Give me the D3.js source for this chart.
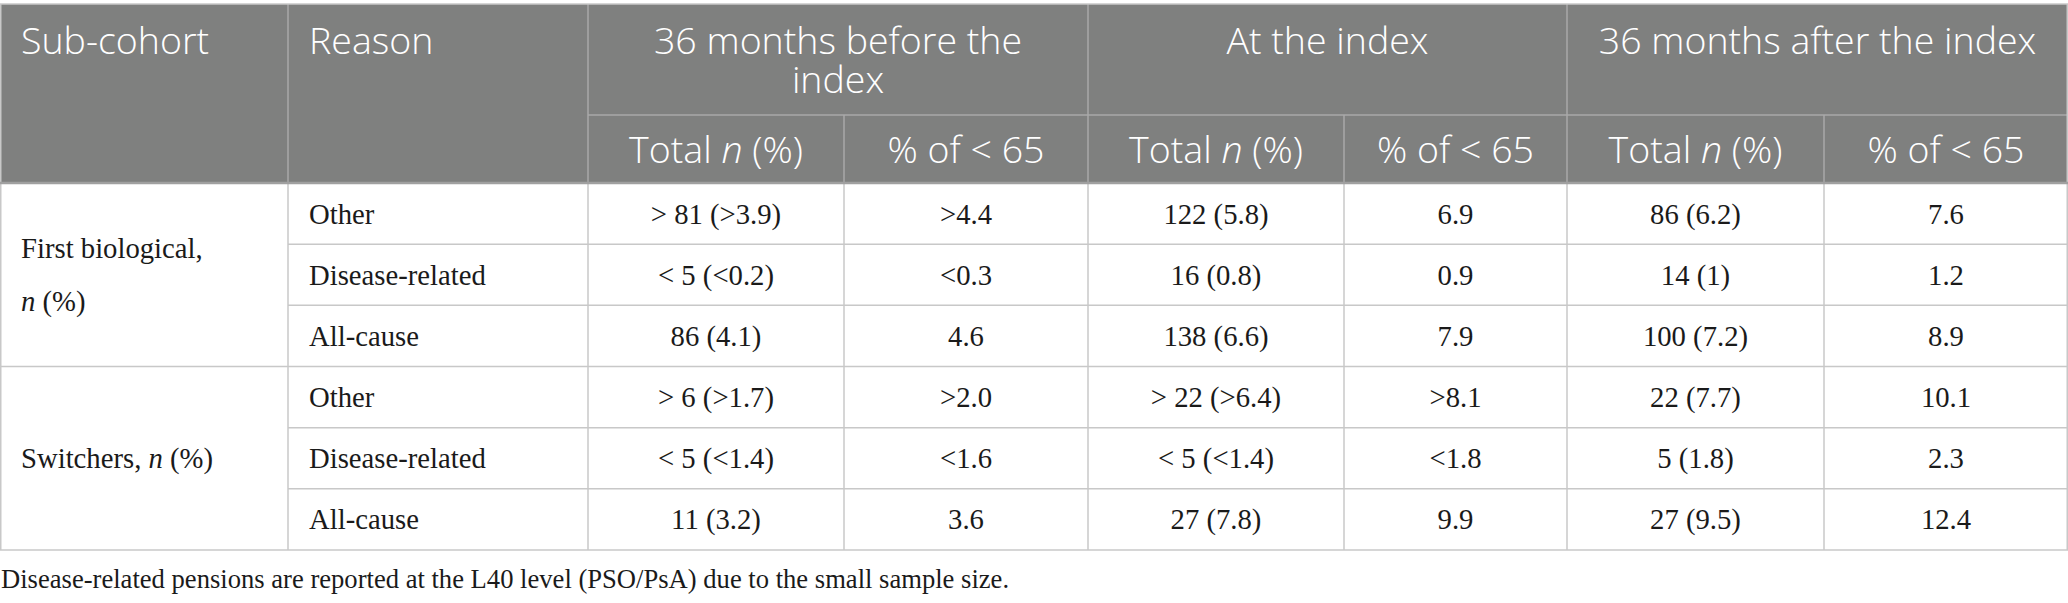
<!DOCTYPE html>
<html>
<head>
<meta charset="utf-8">
<script src="https://cdn.jsdelivr.net/npm/d3@7"></script>
<style>
  body { margin: 0; background: #fff; }
  svg { display: block; }
</style>
</head>
<body>
<svg id="table_display" width="2068" height="603"></svg>
<script>
// header labels
var periods = [
  ['36 months before the', 'index'],
  ['At the index'],
  ['36 months after the index']
]
var subHeaders = ['Total |n| (%)', '% of < 65']

// row labels
var cohorts = [['First biological,', '|n| (%)'], ['Switchers, |n| (%)']]
var reasons = ['Other', 'Disease-related', 'All-cause']

// values per row: before total, before %, index total, index %, after total, after %
var firstBiological = [
  ['> 81 (>3.9)', '>4.4', '122 (5.8)', '6.9', '86 (6.2)', '7.6'],
  ['< 5 (<0.2)', '<0.3', '16 (0.8)', '0.9', '14 (1)', '1.2'],
  ['86 (4.1)', '4.6', '138 (6.6)', '7.9', '100 (7.2)', '8.9']
]
var switchers = [
  ['> 6 (>1.7)', '>2.0', '> 22 (>6.4)', '>8.1', '22 (7.7)', '10.1'],
  ['< 5 (<1.4)', '<1.6', '< 5 (<1.4)', '<1.8', '5 (1.8)', '2.3'],
  ['11 (3.2)', '3.6', '27 (7.8)', '9.9', '27 (9.5)', '12.4']
]
var footnote = 'Disease-related pensions are reported at the L40 level (PSO/PsA) due to the small sample size.'

var svg = d3.select('#table_display')
var W = 2068

var colEdges = [0, 288, 588, 844, 1088, 1344, 1567, 1824, W]
var headTop = 4, headMid = 115, headBottom = 183, tableBottom = 550

var headFont = '"Open Sans", "Noto Sans", sans-serif'
var bodyFont = '"Liberation Serif", "DejaVu Serif", serif'
var lineColor = '#c8c8c8'

var rows = []
firstBiological.forEach(function (v, i) { rows.push({ g: 0, reason: reasons[i], values: v }) })
switchers.forEach(function (v, i) { rows.push({ g: 1, reason: reasons[i], values: v }) })

var y = d3.scaleBand()
  .domain(d3.range(rows.length))
  .range([headBottom, tableBottom])

var colMid = function (c) { return (colEdges[c] + colEdges[c + 1]) / 2 }

// write "a |n| b" with the pipe-marked part in italics
function richText (sel, str) {
  str.split('|').forEach(function (part, i) {
    sel.append('tspan')
      .style('font-style', i % 2 ? 'italic' : 'normal')
      .text(part)
  })
}

// header background
svg.append('rect')
  .attr('x', 0).attr('y', headTop)
  .attr('width', W).attr('height', headBottom - headTop)
  .style('fill', '#7f807f')

var head = svg.append('g')
  .style('font-family', headFont)
  .style('font-size', '37.5px')
  .style('font-weight', 300)
  .style('fill', '#fff')

head.append('text').attr('x', 21).attr('y', 54).text('Sub-cohort')
head.append('text').attr('x', colEdges[1] + 21).attr('y', 54).text('Reason')

periods.forEach(function (lines, p) {
  var cx = (colEdges[2 + p * 2] + colEdges[4 + p * 2]) / 2
  var t = head.append('text').attr('text-anchor', 'middle')
  lines.forEach(function (l, i) {
    t.append('tspan').attr('x', cx).attr('y', 54 + i * 39).text(l)
  })

  subHeaders.forEach(function (s, k) {
    var c = 2 + p * 2 + k
    head.append('text')
      .attr('x', colMid(c)).attr('y', 163)
      .attr('text-anchor', 'middle')
      .call(richText, s)
  })
})

// header grid
var hgrid = svg.append('g').style('stroke', '#a9a9a9').style('stroke-width', 1.5)
hgrid.append('line').attr('x1', colEdges[2]).attr('x2', W).attr('y1', headMid).attr('y2', headMid)
;[1, 2, 4, 6].forEach(function (c) {
  hgrid.append('line').attr('x1', colEdges[c]).attr('x2', colEdges[c]).attr('y1', headTop).attr('y2', headBottom)
})
;[3, 5, 7].forEach(function (c) {
  hgrid.append('line').attr('x1', colEdges[c]).attr('x2', colEdges[c]).attr('y1', headMid).attr('y2', headBottom)
})

// body grid
var grid = svg.append('g').style('stroke', lineColor).style('stroke-width', 1.5)
rows.forEach(function (r, i) {
  if (i === 0) return
  grid.append('line')
    .attr('x1', i === 3 ? 0 : colEdges[1]).attr('x2', W)
    .attr('y1', y(i)).attr('y2', y(i))
})
colEdges.slice(1, -1).forEach(function (x) {
  grid.append('line').attr('x1', x).attr('x2', x).attr('y1', headBottom).attr('y2', tableBottom)
})
grid.append('line').attr('x1', 0).attr('x2', W).attr('y1', tableBottom).attr('y2', tableBottom)
grid.append('line').attr('x1', 0.75).attr('x2', 0.75).attr('y1', headTop).attr('y2', tableBottom)
grid.append('line').attr('x1', W - 0.75).attr('x2', W - 0.75).attr('y1', headTop).attr('y2', tableBottom)
grid.append('line').attr('x1', 0).attr('x2', W).attr('y1', headTop).attr('y2', headTop)
svg.append('line')
  .attr('x1', 0).attr('x2', W).attr('y1', headBottom).attr('y2', headBottom)
  .style('stroke', '#a0a0a0').style('stroke-width', 2.5)

// body text
var body = svg.append('g')
  .style('font-family', bodyFont)
  .style('font-size', '28.7px')
  .style('fill', '#1a1a1a')

cohorts.forEach(function (lines, g) {
  var top = y(g * 3), bottom = y(g * 3 + 2) + y.bandwidth()
  var mid = (top + bottom) / 2
  var gap = 53
  var t = body.append('text')
  lines.forEach(function (l, i) {
    var ty = mid + 10 + (i - (lines.length - 1) / 2) * gap
    var sp = t.append('tspan').attr('x', 21).attr('y', ty)
    richText(sp, l)
  })
})

var rowG = body.selectAll('g.row')
  .data(rows)
  .join('g')
  .attr('class', 'row')
  .attr('transform', function (d, i) { return 'translate(0,' + (y(i) + y.bandwidth() / 2 + 10) + ')' })

rowG.append('text')
  .attr('x', colEdges[1] + 21)
  .text(function (d) { return d.reason })

rowG.selectAll('text.val')
  .data(function (d) { return d.values })
  .join('text')
  .attr('class', 'val')
  .attr('x', function (d, i) { return colMid(i + 2) })
  .attr('text-anchor', 'middle')
  .text(function (d) { return d })

svg.append('text')
  .attr('x', 1).attr('y', 588)
  .style('font-family', bodyFont)
  .style('font-size', '26.6px')
  .style('fill', '#1a1a1a')
  .text(footnote)
</script>
</body>
</html>
